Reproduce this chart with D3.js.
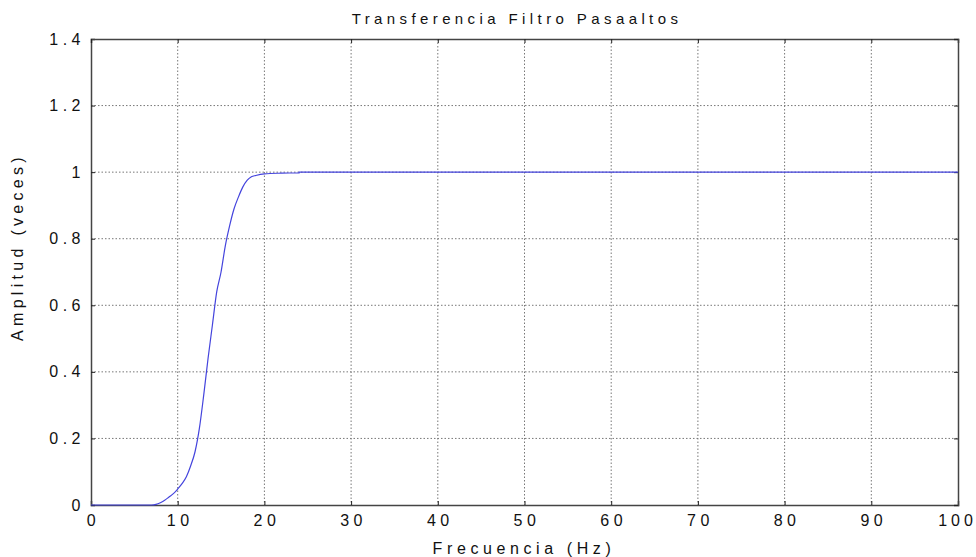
<!DOCTYPE html>
<html>
<head>
<meta charset="utf-8">
<script src="https://cdn.jsdelivr.net/npm/d3@7"></script>
<style>
body { margin: 0; background: #fff; }
text { font-family: "Liberation Sans", Arial, sans-serif; fill: #111; }
</style>
</head>
<body>
<script>
var width = 976, height = 557;
var margin = {top: 39, right: 18, bottom: 52, left: 91};

var titleText = 'Transferencia Filtro Pasaaltos';
var xLabel = 'Frecuencia (Hz)';
var yLabel = 'Amplitud (veces)';
var xTicks = [0, 10, 20, 30, 40, 50, 60, 70, 80, 90, 100];
var yTicks = [0, 0.2, 0.4, 0.6, 0.8, 1, 1.2, 1.4];

// respuesta
var freq = [0, 7, 7.5, 8, 8.5, 9, 9.5, 10, 10.5, 11, 11.5, 12, 12.5, 13, 13.5, 14, 14.5, 15, 15.5, 16, 16.5, 17, 17.5, 18, 18.5, 19, 20, 22, 24, 24, 100];
var amp = [0, 0, 0.002, 0.007, 0.014, 0.024, 0.034, 0.048, 0.064, 0.085, 0.118, 0.16, 0.23, 0.33, 0.44, 0.54, 0.64, 0.7, 0.78, 0.84, 0.89, 0.925, 0.955, 0.975, 0.986, 0.99, 0.995, 0.997, 0.998, 1, 1];

var svg = d3.select('body').append('svg')
    .attr('width', width)
    .attr('height', height);

var w = width - margin.left - margin.right;
var h = height - margin.top - margin.bottom;

var x = d3.scaleLinear().domain([0, 100]).range([margin.left, margin.left + w]);
var y = d3.scaleLinear().domain([0, 1.4]).range([margin.top + h, margin.top]);

// rejilla
svg.selectAll('.vgrid')
    .data(xTicks.slice(1, -1))
    .enter().append('line')
    .attr('class', 'vgrid')
    .attr('x1', function(d) { return x(d); })
    .attr('x2', function(d) { return x(d); })
    .attr('y1', margin.top)
    .attr('y2', margin.top + h)
    .style('stroke', '#777')
    .style('stroke-dasharray', '1.5,2')
    .style('stroke-width', 1);

svg.selectAll('.hgrid')
    .data(yTicks.slice(1, -1))
    .enter().append('line')
    .attr('class', 'hgrid')
    .attr('y1', function(d) { return y(d); })
    .attr('y2', function(d) { return y(d); })
    .attr('x1', margin.left)
    .attr('x2', margin.left + w)
    .style('stroke', '#777')
    .style('stroke-dasharray', '1.5,2')
    .style('stroke-width', 1);

// ejes con marcas hacia dentro
var xAxis = d3.axisBottom(x).tickValues(xTicks).tickSize(-4).tickPadding(10)
    .tickFormat(function(d) { return d; });
var yAxis = d3.axisLeft(y).tickValues(yTicks).tickSize(-4).tickPadding(6)
    .tickFormat(function(d) { return d; });

var gx = svg.append('g')
    .attr('transform', 'translate(0,' + (margin.top + h) + ')')
    .call(xAxis);
var gy = svg.append('g')
    .attr('transform', 'translate(' + margin.left + ',0)')
    .call(yAxis);

svg.append('g')
    .attr('transform', 'translate(0,' + margin.top + ')')
    .call(d3.axisTop(x).tickValues(xTicks).tickSize(-4).tickFormat(''));
svg.append('g')
    .attr('transform', 'translate(' + (margin.left + w) + ',0)')
    .call(d3.axisRight(y).tickValues(yTicks).tickSize(-4).tickFormat(''));

svg.selectAll('.domain').style('stroke', '#444').style('stroke-width', 1.5);
svg.selectAll('.tick line').style('stroke', '#222');

gx.selectAll('text')
    .style('font-size', '16px')
    .style('letter-spacing', function(d) { return d === 100 ? '4px' : '4.5px'; })
    .attr('dx', function(d) { return d === 100 ? '-1px' : '2px'; })
    .attr('dy', '0.71em');
gy.selectAll('text')
    .style('font-size', '16px')
    .style('letter-spacing', '4.5px');

// curva
var pts = freq.map(function(f, i) { return [f, amp[i]]; });
var line = d3.line()
    .x(function(d) { return x(d[0]); })
    .y(function(d) { return y(d[1]); })
    .curve(d3.curveMonotoneX);

svg.append('path')
    .datum(pts)
    .attr('d', line)
    .style('fill', 'none')
    .style('stroke', '#4444dd')
    .style('stroke-width', 1.2);

// textos
svg.append('text')
    .attr('x', 517)
    .attr('y', 24)
    .attr('text-anchor', 'middle')
    .style('font-size', '15px')
    .style('letter-spacing', '4.4px')
    .text(titleText);

svg.append('text')
    .attr('x', 524)
    .attr('y', 554)
    .attr('text-anchor', 'middle')
    .style('font-size', '16px')
    .style('letter-spacing', '4.6px')
    .text(xLabel);

svg.append('text')
    .attr('transform', 'translate(23,247) rotate(-90)')
    .attr('text-anchor', 'middle')
    .style('font-size', '16px')
    .style('letter-spacing', '4.3px')
    .text(yLabel);
</script>
</body>
</html>
